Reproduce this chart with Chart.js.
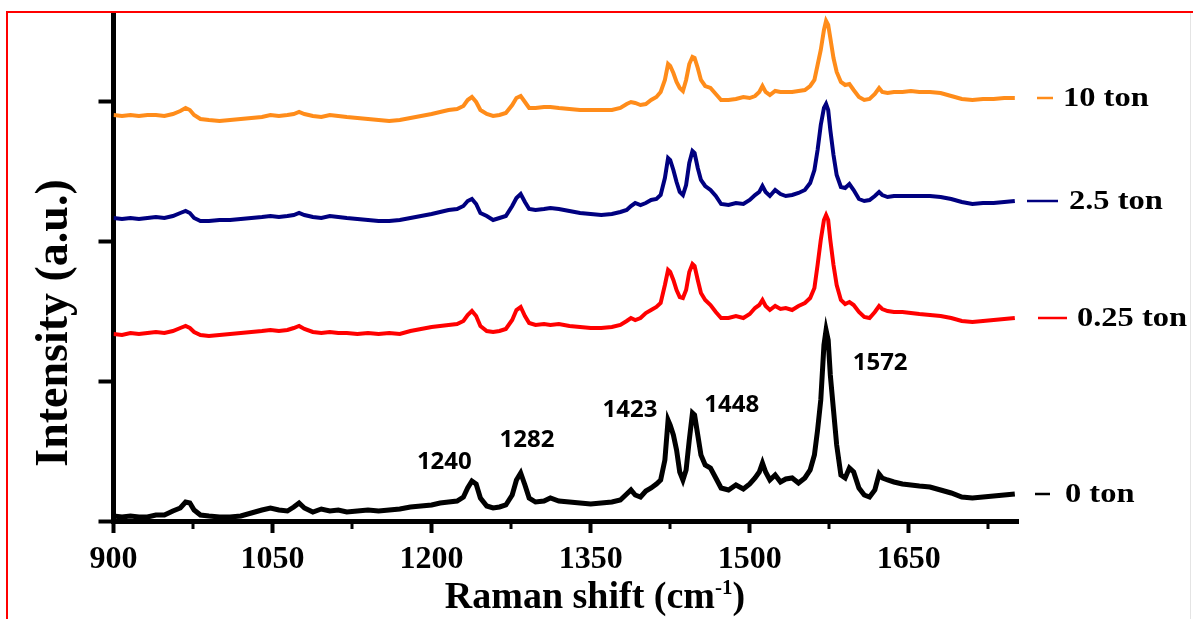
<!DOCTYPE html>
<html>
<head>
<meta charset="utf-8">
<title>Raman spectra under pressure</title>
<script src="https://cdn.jsdelivr.net/npm/chart.js@4.4.1/dist/chart.umd.min.js"></script>
<style>
  html, body { margin: 0; padding: 0; background: #fff; }
  #wrap { width: 1193px; height: 619px; position: relative; }
</style>
</head>
<body>
<div id="wrap"><canvas id="canvas" width="1193" height="619"></canvas></div>
<script>
// Raman shift (cm-1), shared by the four spectra
const ramanShift = [900,908,916,924,932,940,948,956,963,968,972,976,982,990,1000,1010,1020,1030,1040,1048,
  1056,1064,1070,1075,1080,1088,1096,1104,1112,1120,1130,1140,1150,1160,1170,1180,1190,1200,1208,1216,
  1224,1230,1234,1238,1242,1246,1252,1258,1264,1270,1276,1280,1284,1288,1292,1298,1306,1312,1320,1330,
  1340,1350,1360,1370,1378,1384,1388,1392,1397,1402,1407,1412,1416,1420,1423,1425,1428,1431,1434,1437,
  1440,1443,1446,1448,1451,1454,1458,1463,1468,1473,1480,1487,1494,1500,1505,1509,1512,1515,1519,1524,
  1529,1534,1540,1546,1552,1557,1561,1564,1567,1570,1572,1574,1576,1579,1582,1586,1590,1594,1598,1603,
  1608,1613,1618,1622,1625,1630,1636,1644,1652,1660,1670,1680,1690,1700,1710,1720,1730,1740,1750];

// intensities (a.u.), spectra already offset one above the other
const ton0 = [5,4,5,4,4,6,6,10,13,19,18,11,6,5,4,4,5,8,11,13,
  11,10,14,18,13,9,12,10,11,9,10,11,10,11,12,14,15,16,18,19,
  20,24,33,40,37,23,15,13,14,16,26,41,48,36,23,19,20,23,20,19,
  18,17,18,19,21,27,31,26,24,30,33,37,41,61,101,96,86,71,49,41,
  51,81,108,106,86,66,56,53,43,33,31,36,32,37,43,49,58,49,41,46,
  39,42,43,38,43,51,66,91,121,176,191,181,146,111,76,46,43,53,49,33,
  26,24,31,47,43,41,39,37,36,35,34,31,28,24,23,24,25,26,27];

const ton025 = [187,186,188,187,188,189,188,190,193,195,193,189,186,185,186,187,188,189,190,191,
  190,191,193,195,192,189,188,189,188,188,187,188,187,188,187,190,192,194,195,196,
  197,200,206,210,205,195,190,189,190,192,201,211,214,205,198,196,197,196,197,195,
  194,193,193,194,196,200,203,201,203,208,211,214,218,236,251,249,241,231,224,223,
  231,249,257,255,241,228,221,216,209,203,203,205,203,207,213,216,221,215,211,215,
  212,213,211,215,218,223,233,256,281,301,306,301,281,256,236,221,217,219,216,209,
  204,203,209,215,212,210,209,209,208,207,206,205,203,200,199,200,201,202,203];

const ton25 = [303,302,303,302,303,304,303,305,308,310,308,303,300,300,301,301,302,303,304,305,
  304,305,306,308,306,304,303,305,304,303,302,301,300,300,301,303,305,307,309,311,
  312,315,320,322,317,308,305,301,303,305,315,323,327,319,312,311,312,313,312,310,
  308,307,306,307,309,311,315,318,316,318,321,322,326,343,363,361,351,339,329,326,
  336,358,370,368,353,341,335,331,325,317,316,318,317,321,326,329,335,329,325,331,
  327,325,326,328,331,338,351,371,396,413,417,411,391,366,346,334,333,337,331,322,
  320,321,325,329,326,324,325,325,325,325,325,324,322,319,317,318,318,319,320];

const ton10 = [406,405,406,405,406,406,405,407,410,413,411,406,402,401,400,401,402,403,404,406,
  405,406,407,409,407,405,404,406,405,404,403,402,401,400,401,403,405,407,409,411,
  412,415,421,424,419,411,407,405,406,408,416,423,425,419,413,413,414,414,413,412,
  411,411,411,411,413,417,419,418,416,417,421,424,429,441,457,455,448,439,433,430,
  441,457,464,463,453,441,435,433,427,421,421,422,424,423,425,429,435,429,426,430,
  429,429,429,430,431,435,441,456,471,491,500,496,483,463,449,439,436,437,431,424,
  421,422,427,433,429,428,429,429,430,429,429,428,425,422,421,422,422,423,423];

const seriesNames = ["0 ton", "0.25 ton", "2.5 ton", "10 ton"];
const peakLabels = ["1240", "1282", "1423", "1448", "1572"];
const xTickLabels = [900, 1050, 1200, 1350, 1500, 1650];

const serif = "'Liberation Serif', 'Times New Roman', serif";
const colors = ["#000000", "#ff0000", "#000080", "#ff8c1a"];

// where each peak number sits, in axis units
const peakLabelAt = [[1212, 59], [1290, 81], [1387, 111], [1483, 116], [1623, 158]];
// dash start/end and text start, measured from the right edge of the plot
const tagLayout = [[17, 32, 47], [20, 49, 59], [9, 40, 51], [19, 35, 45]];

function toPoints(values) {
  return values.map((v, i) => ({ x: ramanShift[i], y: v }));
}

const decorations = {
  id: "decorations",
  afterDraw(chart) {
    const { ctx, chartArea, scales: { x, y } } = chart;
    ctx.save();

    // short minor ticks between the labelled ones
    ctx.strokeStyle = "#000";
    ctx.lineWidth = 3;
    x.ticks.forEach((t) => {
      if (xTickLabels.includes(t.value)) return;
      const px = Math.round(x.getPixelForValue(t.value));
      ctx.beginPath();
      ctx.moveTo(px, chartArea.bottom);
      ctx.lineTo(px, chartArea.bottom + 8);
      ctx.stroke();
    });

    // series tags at the right end of each trace
    chart.data.datasets.forEach((ds, i) => {
      const last = ds.data[ds.data.length - 1].y;
      const py = y.getPixelForValue(last);
      const [d0, d1, tx] = tagLayout[i];
      ctx.strokeStyle = colors[i];
      ctx.lineWidth = 2.5;
      ctx.beginPath();
      ctx.moveTo(chartArea.right + d0, py);
      ctx.lineTo(chartArea.right + d1, py);
      ctx.stroke();
      ctx.save();
      ctx.translate(chartArea.right + tx, py);
      ctx.scale(1.16, 1);
      ctx.fillStyle = "#000";
      ctx.font = "bold 28px " + serif;
      ctx.textAlign = "left";
      ctx.textBaseline = "middle";
      ctx.fillText(seriesNames[i], 0, 1);
      ctx.restore();
    });

    // peak positions on the 0 ton trace
    ctx.fillStyle = "#000";
    ctx.font = "bold 24px 'Open Sans', sans-serif";
    ctx.textAlign = "center";
    ctx.textBaseline = "middle";
    peakLabels.forEach((label, i) => {
      const [vx, vy] = peakLabelAt[i];
      ctx.fillText(label, x.getPixelForValue(vx), y.getPixelForValue(vy));
    });

    // axis titles
    ctx.save();
    ctx.translate(67, 323);
    ctx.rotate(-Math.PI / 2);
    ctx.font = "bold 46px " + serif;
    ctx.textAlign = "center";
    ctx.textBaseline = "alphabetic";
    ctx.fillText("Intensity (a.u.)", 0, 0);
    ctx.restore();

    const main = "Raman shift (cm";
    const sup = "-1";
    const close = ")";
    ctx.textAlign = "left";
    ctx.textBaseline = "alphabetic";
    ctx.font = "bold 38px " + serif;
    const wMain = ctx.measureText(main).width;
    const wClose = ctx.measureText(close).width;
    ctx.font = "bold 21px " + serif;
    const wSup = ctx.measureText(sup).width;
    let tx = 595 - (wMain + wSup + wClose) / 2;
    ctx.font = "bold 38px " + serif;
    ctx.fillText(main, tx, 608);
    tx += wMain;
    ctx.font = "bold 21px " + serif;
    ctx.fillText(sup, tx, 594);
    tx += wSup;
    ctx.font = "bold 38px " + serif;
    ctx.fillText(close, tx, 608);

    // red frame
    ctx.strokeStyle = "#ff0000";
    ctx.lineWidth = 2;
    ctx.beginPath();
    ctx.moveTo(7, 619);
    ctx.lineTo(7, 12);
    ctx.lineTo(1193, 12);
    ctx.stroke();
    ctx.strokeStyle = "#e4e4e4";
    ctx.lineWidth = 1;
    ctx.beginPath();
    ctx.moveTo(1190.5, 13);
    ctx.lineTo(1190.5, 619);
    ctx.stroke();

    ctx.restore();
  }
};

new Chart(document.getElementById("canvas"), {
  type: "line",
  data: {
    datasets: [
      { label: seriesNames[0], data: toPoints(ton0), borderColor: colors[0], borderWidth: 5 },
      { label: seriesNames[1], data: toPoints(ton025), borderColor: colors[1], borderWidth: 4 },
      { label: seriesNames[2], data: toPoints(ton25), borderColor: colors[2], borderWidth: 4 },
      { label: seriesNames[3], data: toPoints(ton10), borderColor: colors[3], borderWidth: 4 },
    ],
  },
  options: {
    responsive: false,
    animation: false,
    events: [],
    elements: { point: { radius: 0 }, line: { tension: 0 } },
    layout: { padding: { top: 13, right: 175, left: 0, bottom: 0 } },
    plugins: { legend: { display: false }, tooltip: { enabled: false } },
    scales: {
      x: {
        type: "linear",
        min: 900,
        max: 1753,
        afterFit: (scale) => { scale.height = 98; },
        border: { display: true, color: "#000", width: 5 },
        grid: {
          drawOnChartArea: false,
          drawTicks: true,
          tickLength: 12,
          tickWidth: 4,
          tickColor: (c) => (c.tick && xTickLabels.includes(c.tick.value) ? "#000" : "rgba(0,0,0,0)"),
        },
        ticks: {
          stepSize: 75,
          includeBounds: false,
          autoSkip: false,
          maxRotation: 0,
          padding: 8,
          color: "#000",
          font: { family: serif, size: 32, weight: "bold" },
          callback: (v) => (xTickLabels.includes(v) ? String(v) : ""),
        },
      },
      y: {
        min: 0,
        max: 508,
        afterFit: (scale) => { scale.width = 113.5; },
        border: { display: true, color: "#000", width: 5 },
        grid: {
          drawOnChartArea: false,
          drawTicks: true,
          tickLength: 15,
          tickWidth: 4,
          tickColor: "#000",
        },
        ticks: { display: false, stepSize: 140, includeBounds: false },
      },
    },
  },
  plugins: [decorations],
});
</script>
</body>
</html>
